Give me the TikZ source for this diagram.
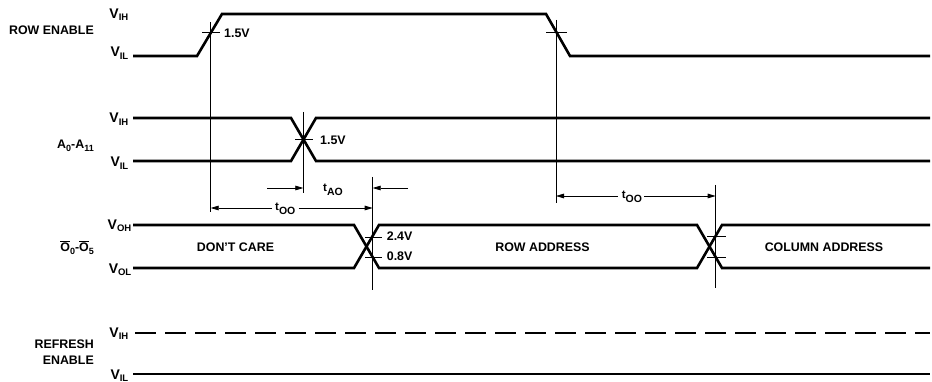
\documentclass[tikz,border=0pt]{standalone}
\usepackage{fontspec}
\setmainfont{Liberation Sans}
\usetikzlibrary{arrows.meta,calc}
\newcommand\Vsub[1]{V\raisebox{-2.2pt}{\fontsize{9.5}{10}\selectfont #1}}
\newcommand\Ssub[1]{\raisebox{-3pt}{\fontsize{9}{9}\selectfont #1}}
\newcommand\Tsub[1]{t\raisebox{-4pt}{\fontsize{10.5}{11}\selectfont #1}}
\newcommand\Obar{\rlap{\rule[9.7pt]{9.4pt}{0.9pt}}O}
\tikzset{
  sig/.style={line width=2.6pt},
  guide/.style={line width=0.8pt},
  arr/.style={line width=0.8pt,-{Triangle[length=8pt,width=4.6pt]}},
  txt/.style={font=\fontsize{12.4}{14}\selectfont\bfseries, inner sep=0pt},
  vtxt/.style={font=\fontsize{14}{15}\selectfont\bfseries, inner sep=0pt, anchor=base east},
  tlab/.style={font=\fontsize{11.5}{12}\selectfont\bfseries, inner sep=0pt, anchor=base west},
}
\begin{document}
\begin{tikzpicture}[x=1pt,y=-1pt]
\fill[white] (0,0) rectangle (932,382);
\useasboundingbox (0,0) rectangle (932,382);

% ---------- signal names ----------
\node[txt,anchor=base east] (nre) at (94,34.3) {ROW ENABLE};
\node[txt,anchor=base east] (na) at (94,148.3) {A\Ssub{0}-A\Ssub{11}};
\node[txt,anchor=base east] (no) at (94,251.7) {\Obar\Ssub{0}-\Obar\Ssub{5}};
\node[txt,anchor=base east] (nrf1) at (94,348.3) {REFRESH};
\node[txt,anchor=base east] (nrf2) at (94,364.3) {ENABLE};

% ---------- level labels ----------
\node[vtxt] (reH) at (128.5,18.5) {\Vsub{IH}};
\node[vtxt] (reL) at (128.5,57) {\Vsub{IL}};
\node[vtxt] (aH) at (128.5,123) {\Vsub{IH}};
\node[vtxt] (aL) at (128.5,167) {\Vsub{IL}};
\node[vtxt] (oH) at (131.5,229.5) {\Vsub{OH}};
\node[vtxt] (oL) at (131.5,273) {\Vsub{OL}};
\node[vtxt] (rH) at (128.5,337.5) {\Vsub{IH}};
\node[vtxt] (rL) at (128.5,379) {\Vsub{IL}};

% ---------- ROW ENABLE ----------
\coordinate (re0) at (133,56);
\coordinate (re1) at (197,56);
\coordinate (re2) at (222,14);
\coordinate (re3) at (546,14);
\coordinate (re4) at (570,56);
\coordinate (re5) at (930,56);
\draw[sig] (re0) -- (re1) -- (re2) -- (re3) -- (re4) -- (re5);

% ---------- A0-A11 ----------
\draw[sig] (133,118) -- (291,118) -- (316,161) -- (930,161);
\draw[sig] (133,161) -- (291,161) -- (316,118) -- (930,118);

% ---------- O0-O5 ----------
\draw[sig] (133,225) -- (354,225) -- (379,268) -- (697,268) -- (722,225) -- (930,225);
\draw[sig] (133,268) -- (354,268) -- (379,225) -- (697,225) -- (722,268) -- (930,268);

% ---------- REFRESH ENABLE ----------
\draw[line width=2pt, dash pattern=on 21pt off 9pt] (135,333) -- (930,333);
\draw[sig] (133,374) -- (930,374);

% ---------- guide lines ----------
\coordinate (g1t) at (210.7,22);  \coordinate (g1b) at (210.7,212);
\coordinate (g2t) at (303.3,112); \coordinate (g2b) at (303.3,193);
\coordinate (g3t) at (372.7,177); \coordinate (g3b) at (372.7,290);
\coordinate (g4t) at (556,20);    \coordinate (g4b) at (556,203);
\coordinate (g5t) at (715.7,185); \coordinate (g5b) at (715.7,288);
\draw[guide] (g1t) -- (g1b);
\draw[guide] (g2t) -- (g2b);
\draw[guide] (g3t) -- (g3b);
\draw[guide] (g4t) -- (g4b);
\draw[guide] (g5t) -- (g5b);

% ticks
\draw[guide] (202,32) -- (220,32);
\draw[guide] (546,32) -- (567,32);
\draw[guide] (295,139.5) -- (313,139.5);
\draw[guide] (365,237) -- (382,237);
\draw[guide] (365,257) -- (382,257);
\draw[guide] (707,236) -- (726,236);
\draw[guide] (707,257) -- (726,257);

% ---------- level texts ----------
\node[txt,anchor=base west] (r15) at (224,37.7) {1.5V};
\node[txt,anchor=base west] (a15) at (320,144.3) {1.5V};
\node[txt,anchor=base west] (v24) at (386.7,241) {2.4V};
\node[txt,anchor=base west] (v08) at (386.7,261) {0.8V};

% ---------- data texts ----------
\node[txt,anchor=base] (dc) at (235.5,251.7) {DON'T CARE};
\node[txt,anchor=base] (ra) at (542.5,251.7) {ROW ADDRESS};
\node[txt,anchor=base] (ca) at (824,251.5) {COLUMN ADDRESS};

% ---------- timing labels and arrows ----------
\node[tlab] (too1) at (275,210.7) {\Tsub{OO}};
\node[tlab] (tao) at (323,191.7) {\Tsub{AO}};
\node[tlab] (too2) at (621.7,198.7) {\Tsub{OO}};

\coordinate (d1l) at (210.7,208);
\coordinate (d1r) at (372.7,208);
\draw[arr] ($(too1.west |- d1l)+(-3,0)$) -- (d1l);
\draw[arr] ($(too1.east |- d1r)+(3,0)$) -- (d1r);

\coordinate (d2l) at (556,196);
\coordinate (d2r) at (715.7,196);
\draw[arr] ($(too2.west |- d2l)+(-4,0)$) -- (d2l);
\draw[arr] ($(too2.east |- d2r)+(2,0)$) -- (d2r);

\coordinate (ta1s) at (267,188);
\coordinate (ta1e) at (303.3,188);
\coordinate (ta2s) at (408,188);
\coordinate (ta2e) at (372.7,188);
\draw[arr] (ta1s) -- (ta1e);
\draw[arr] (ta2s) -- (ta2e);
\end{tikzpicture}
\end{document}
